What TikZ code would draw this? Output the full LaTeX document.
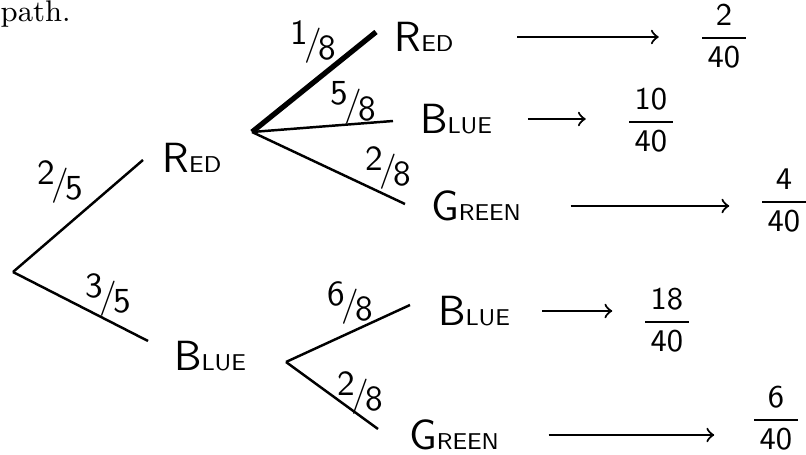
\documentclass[tikz,border=0pt]{standalone}
\usepackage{amsmath}
\usepackage{tikz}
\usetikzlibrary{arrows, positioning}
\tikzstyle{branch} = [draw, line width = 0.7pt]
\tikzstyle{heavy} = [draw, line width = 1.5pt]
\tikzstyle{word} = [font = \sffamily\fontsize{12}{14}\selectfont, inner sep = 0pt]
\tikzstyle{prob} = [font = \sffamily\fontsize{10}{12}\selectfont, inner sep = 0pt]
\tikzstyle{result} = [font = \sffamily\fontsize{9.5}{11}\selectfont, inner sep = 0pt]
\tikzstyle{line2} = [draw, ->, line width = 0.6pt]
\newcommand{\hword}[2]{#1{\fontsize{6.5}{8}\selectfont #2}}
\newcommand{\pfrac}[2]{\raisebox{0.7ex}{#1}\kern-1pt/\kern-1pt\raisebox{-0.3ex}{#2}}
\newcommand{\rfrac}[2]{$\dfrac{\mathsf{\,#1\,}}{\mathsf{\,#2\,}}$}
\begin{document}
\begin{tikzpicture}[x = 0.01cm, y = -0.01cm]
			\useasboundingbox (0, 0) rectangle (806, 455);
			% Place nodes
			\node [anchor = base west, inner sep = 0pt, font = \fontsize{8.5}{10}\selectfont] (path) at (0, 22) {path.};
			\coordinate (root) at (13, 272);
			\coordinate (redend) at (143, 160);
			\coordinate (blueend) at (148, 341);
			\coordinate (rbr) at (252, 132);
			\coordinate (rrend) at (376, 32);
			\coordinate (rbend) at (393, 121);
			\coordinate (rgend) at (405, 204);
			\coordinate (bbr) at (286, 362);
			\coordinate (bbend) at (410, 305);
			\coordinate (bgend) at (378, 429);
			\node [word] (wred) at (192, 158) {\hword{R}{ED}};
			\node [word] (wblue) at (210, 356) {\hword{B}{LUE}};
			\node [word] (wrr) at (424, 37) {\hword{R}{ED}};
			\node [word] (wrb) at (456, 119) {\hword{B}{LUE}};
			\node [word] (wrg) at (476, 206) {\hword{G}{REEN}};
			\node [word] (wbb) at (474, 311) {\hword{B}{LUE}};
			\node [word] (wbg) at (454, 435) {\hword{G}{REEN}};
			\node [prob] (p25) at (60, 182) {\pfrac{2}{5}};
			\node [prob] (p35) at (108, 295) {\pfrac{3}{5}};
			\node [prob] (p18) at (313, 42) {\pfrac{1}{8}};
			\node [prob] (p58) at (353, 103) {\pfrac{5}{8}};
			\node [prob] (p28a) at (388, 168) {\pfrac{2}{8}};
			\node [prob] (p68) at (350, 303) {\pfrac{6}{8}};
			\node [prob] (p28b) at (360, 393) {\pfrac{2}{8}};
			\node [result] (f1) at (724, 36) {\rfrac{2}{40}};
			\node [result] (f2) at (651, 120) {\rfrac{10}{40}};
			\node [result] (f3) at (784, 200) {\rfrac{4}{40}};
			\node [result] (f4) at (667, 320) {\rfrac{18}{40}};
			\node [result] (f5) at (776, 418) {\rfrac{6}{40}};

			% Draw edges
			\path [branch] (root) -- (redend);
			\path [branch] (root) -- (blueend);
			\path [heavy] (rbr) -- (rrend);
			\path [branch] (rbr) -- (rbend);
			\path [branch] (rbr) -- (rgend);
			\path [branch] (bbr) -- (bbend);
			\path [branch] (bbr) -- (bgend);
			\path [line2, shorten < = 18pt, shorten > = 11pt] (wrr.east) -- (wrr.east -| f1.west);
			\path [line2, shorten < = 10pt, shorten > = 11pt] (wrb.east) -- (wrb.east -| f2.west);
			\path [line2, shorten < = 14pt, shorten > = 8pt] (wrg.east) -- (wrg.east -| f3.west);
			\path [line2, shorten < = 9pt, shorten > = 8pt] (wbb.east) -- (wbb.east -| f4.west);
			\path [line2, shorten < = 14pt, shorten > = 10pt] (wbg.east) -- (wbg.east -| f5.west);
		\end{tikzpicture}
\end{document}
